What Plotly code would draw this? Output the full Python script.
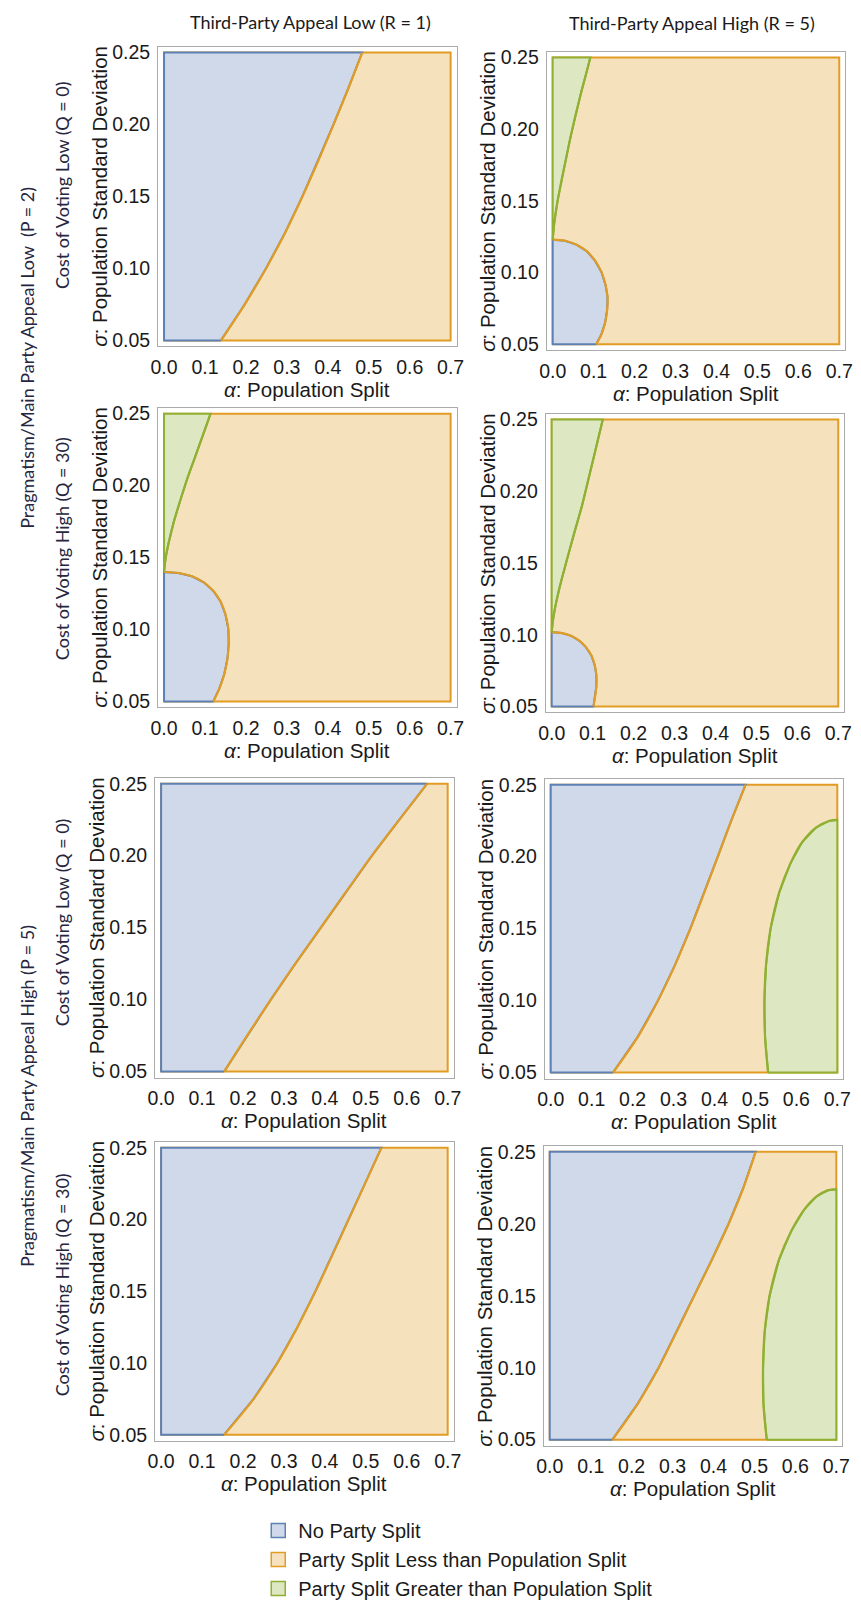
import plotly.graph_objects as go

# ---------------------------------------------------------------------------
# Axes and labels
# ---------------------------------------------------------------------------
ALPHA_RANGE = [0.0, 0.7]
SIGMA_RANGE = [0.05, 0.25]
ALPHA_TICKS = [0.0, 0.1, 0.2, 0.3, 0.4, 0.5, 0.6, 0.7]
ALPHA_TICK_LABELS = ["0.0", "0.1", "0.2", "0.3", "0.4", "0.5", "0.6", "0.7"]
SIGMA_TICKS = [0.05, 0.10, 0.15, 0.20, 0.25]
SIGMA_TICK_LABELS = ["0.05", "0.10", "0.15", "0.20", "0.25"]

COLUMN_TITLES = ["Third-Party Appeal Low (R = 1)", "Third-Party Appeal High (R = 5)"]
PRAGMATISM_LABELS = ["Pragmatism/Main Party Appeal Low  (P = 2)",
                     "Pragmatism/Main Party Appeal High (P = 5)"]
COST_LABELS = ["Cost of Voting Low (Q = 0)", "Cost of Voting High (Q = 30)",
               "Cost of Voting Low (Q = 0)", "Cost of Voting High (Q = 30)"]
X_TITLE = "<i>α</i>: Population Split"
Y_TITLE = "<i>σ</i>: Population Standard Deviation"
REGION_NAMES = ["No Party Split",
                "Party Split Less than Population Split",
                "Party Split Greater than Population Split"]

# ---------------------------------------------------------------------------
# Region boundaries (alpha, sigma) for each parameter combination
# ---------------------------------------------------------------------------
# P = 2, Q = 0, R = 1
P2_Q0_R1_NOSPLIT_ALPHA = [0.139, 0.197, 0.249, 0.296, 0.338, 0.377, 0.414, 0.450, 0.484]
P2_Q0_R1_NOSPLIT_SIGMA = [0.050, 0.075, 0.100, 0.125, 0.150, 0.175, 0.200, 0.225, 0.250]

# P = 2, Q = 0, R = 5
P2_Q0_R5_NOSPLIT_ALPHA = [0.000, 0.030, 0.058, 0.083, 0.103, 0.119, 0.129, 0.134,
                          0.133, 0.128, 0.119, 0.106]
P2_Q0_R5_NOSPLIT_SIGMA = [0.123, 0.1222, 0.1195, 0.1150, 0.1085, 0.1005, 0.0915, 0.083,
                          0.074, 0.065, 0.057, 0.050]
P2_Q0_R5_GREATER_ALPHA = [0.000, 0.004, 0.012, 0.022, 0.033, 0.044, 0.056, 0.069, 0.083, 0.092]
P2_Q0_R5_GREATER_SIGMA = [0.123, 0.135, 0.150, 0.165, 0.180, 0.195, 0.210, 0.225, 0.240, 0.250]

# P = 2, Q = 30, R = 1
P2_Q30_R1_NOSPLIT_ALPHA = [0.000, 0.035, 0.068, 0.097, 0.120, 0.138, 0.150, 0.157,
                           0.158, 0.155, 0.147, 0.135, 0.120]
P2_Q30_R1_NOSPLIT_SIGMA = [0.140, 0.1393, 0.1370, 0.1328, 0.1270, 0.1195, 0.1105, 0.1005,
                           0.0905, 0.080, 0.069, 0.059, 0.050]
P2_Q30_R1_GREATER_ALPHA = [0.000, 0.004, 0.011, 0.024, 0.040, 0.057, 0.076, 0.095, 0.1136]
P2_Q30_R1_GREATER_SIGMA = [0.140, 0.150, 0.160, 0.175, 0.190, 0.205, 0.220, 0.235, 0.250]

# P = 2, Q = 30, R = 5
P2_Q30_R5_NOSPLIT_ALPHA = [0.000, 0.025, 0.048, 0.068, 0.084, 0.097, 0.105, 0.109,
                           0.109, 0.106, 0.102]
P2_Q30_R5_NOSPLIT_SIGMA = [0.1019, 0.1012, 0.0992, 0.0958, 0.0912, 0.0855, 0.079, 0.072,
                           0.064, 0.057, 0.050]
P2_Q30_R5_GREATER_ALPHA = [0.000, 0.003, 0.009, 0.021, 0.035, 0.054, 0.074, 0.091, 0.108, 0.1248]
P2_Q30_R5_GREATER_SIGMA = [0.1019, 0.110, 0.120, 0.135, 0.150, 0.170, 0.190, 0.210, 0.230, 0.250]

# P = 5, Q = 0, R = 1
P5_Q0_R1_NOSPLIT_ALPHA = [0.154, 0.210, 0.268, 0.328, 0.390, 0.452, 0.515, 0.582, 0.650]
P5_Q0_R1_NOSPLIT_SIGMA = [0.050, 0.075, 0.100, 0.125, 0.150, 0.175, 0.200, 0.225, 0.250]

# P = 5, Q = 0, R = 5
P5_Q0_R5_NOSPLIT_ALPHA = [0.152, 0.213, 0.262, 0.304, 0.341, 0.375, 0.408, 0.441, 0.476]
P5_Q0_R5_NOSPLIT_SIGMA = [0.050, 0.075, 0.100, 0.125, 0.150, 0.175, 0.200, 0.225, 0.250]
P5_Q0_R5_GREATER_ALPHA = [0.531, 0.5235, 0.522, 0.526, 0.537, 0.558, 0.585, 0.614,
                          0.648, 0.680, 0.700]
P5_Q0_R5_GREATER_SIGMA = [0.050, 0.075, 0.100, 0.125, 0.150, 0.175, 0.195, 0.210,
                          0.2202, 0.2248, 0.2255]

# P = 5, Q = 30, R = 1
P5_Q30_R1_NOSPLIT_ALPHA = [0.154, 0.226, 0.284, 0.333, 0.377, 0.418, 0.458, 0.498, 0.538]
P5_Q30_R1_NOSPLIT_SIGMA = [0.050, 0.075, 0.100, 0.125, 0.150, 0.175, 0.200, 0.225, 0.250]

# P = 5, Q = 30, R = 5
P5_Q30_R5_NOSPLIT_ALPHA = [0.153, 0.215, 0.266, 0.310, 0.353, 0.396, 0.437, 0.473, 0.503]
P5_Q30_R5_NOSPLIT_SIGMA = [0.050, 0.075, 0.100, 0.125, 0.150, 0.175, 0.200, 0.225, 0.250]
P5_Q30_R5_GREATER_ALPHA = [0.530, 0.522, 0.521, 0.525, 0.537, 0.560, 0.590, 0.622,
                           0.652, 0.679, 0.700]
P5_Q30_R5_GREATER_SIGMA = [0.050, 0.075, 0.100, 0.125, 0.150, 0.175, 0.195, 0.210,
                           0.219, 0.2232, 0.2239]

# ---------------------------------------------------------------------------
# Styling
# ---------------------------------------------------------------------------
W, H = 861, 1608
BLUE_LINE, BLUE_FILL = "#5e81b5", "#cfd9e9"
ORANGE_LINE, ORANGE_FILL = "#e19c24", "#f6e1bd"
GREEN_LINE, GREEN_FILL = "#8fb032", "#dde7c2"
FRAME = "#ababab"
TEXT = "#1a1a1a"
LABEL_TEXT = "#262640"
SANS = "Liberation Sans, Arial, sans-serif"
CAPTION = "Lato, Carlito, sans-serif"
TICK_SIZE = 19.5
TITLE_SIZE = 20.5
CAPTION_SIZE = 18

# plot boxes in pixels: (left, right, top, bottom) of the alpha/sigma data area
PANEL_BOXES = {
    (1, 1): (159, 451, 48, 339), (1, 2): (555, 847, 53, 343),
    (2, 1): (159, 451, 413, 704), (2, 2): (554, 846, 419, 709),
    (3, 1): (156, 448, 787, 1078), (3, 2): (553, 845, 788, 1079),
    (4, 1): (156, 448, 1155, 1445), (4, 2): (552, 844, 1159, 1450),
}
FRAME_PAD = 6  # gap between the data area and the frame, px

# each panel: (row, col, no-split curve, no-split shape, greater curve, greater shape)
PANELS = [
    (1, 1, (P2_Q0_R1_NOSPLIT_ALPHA, P2_Q0_R1_NOSPLIT_SIGMA), "left", None, None),
    (1, 2, (P2_Q0_R5_NOSPLIT_ALPHA, P2_Q0_R5_NOSPLIT_SIGMA), "corner",
     (P2_Q0_R5_GREATER_ALPHA, P2_Q0_R5_GREATER_SIGMA), "top"),
    (2, 1, (P2_Q30_R1_NOSPLIT_ALPHA, P2_Q30_R1_NOSPLIT_SIGMA), "corner",
     (P2_Q30_R1_GREATER_ALPHA, P2_Q30_R1_GREATER_SIGMA), "top"),
    (2, 2, (P2_Q30_R5_NOSPLIT_ALPHA, P2_Q30_R5_NOSPLIT_SIGMA), "corner",
     (P2_Q30_R5_GREATER_ALPHA, P2_Q30_R5_GREATER_SIGMA), "top"),
    (3, 1, (P5_Q0_R1_NOSPLIT_ALPHA, P5_Q0_R1_NOSPLIT_SIGMA), "left", None, None),
    (3, 2, (P5_Q0_R5_NOSPLIT_ALPHA, P5_Q0_R5_NOSPLIT_SIGMA), "left",
     (P5_Q0_R5_GREATER_ALPHA, P5_Q0_R5_GREATER_SIGMA), "right"),
    (4, 1, (P5_Q30_R1_NOSPLIT_ALPHA, P5_Q30_R1_NOSPLIT_SIGMA), "left", None, None),
    (4, 2, (P5_Q30_R5_NOSPLIT_ALPHA, P5_Q30_R5_NOSPLIT_SIGMA), "left",
     (P5_Q30_R5_GREATER_ALPHA, P5_Q30_R5_GREATER_SIGMA), "right"),
]

a0, a1 = ALPHA_RANGE
s0, s1 = SIGMA_RANGE
CLOSING_CORNERS = {
    "left": [(a0, s1), (a0, s0)],
    "corner": [(a0, s0)],
    "top": [(a0, s1)],
    "right": [(a1, s0)],
}


def px_x(p):
    return p / W


def px_y(p):
    return 1 - p / H


def region_traces(curve, shape, fill, edge, boundary, xa, ya):
    """Filled region closed along the plot edges, plus its smooth boundary curve."""
    ax, sy = curve
    corners = CLOSING_CORNERS[shape]
    return [
        go.Scatter(
            x=list(ax) + [c[0] for c in corners] + [ax[0]],
            y=list(sy) + [c[1] for c in corners] + [sy[0]],
            xaxis=xa, yaxis=ya, mode="lines", fill="toself", fillcolor=fill,
            line=dict(color=edge, width=2), showlegend=False, hoverinfo="skip",
        ),
        go.Scatter(
            x=ax, y=sy, xaxis=xa, yaxis=ya, mode="lines",
            line=dict(color=boundary, width=2.2, shape="spline", smoothing=1),
            showlegend=False, hoverinfo="skip",
        ),
    ]


fig = go.Figure()
layout_axes = {}

for i, (row, col, nosplit, ns_shape, greater, gr_shape) in enumerate(PANELS, start=1):
    left, right, top, bottom = PANEL_BOXES[(row, col)]
    pad_a = FRAME_PAD * (a1 - a0) / (right - left)
    pad_s = FRAME_PAD * (s1 - s0) / (bottom - top)
    xa, ya = f"x{i}", f"y{i}"
    suffix = "" if i == 1 else str(i)

    layout_axes["xaxis" + suffix] = dict(
        domain=[px_x(left - FRAME_PAD), px_x(right + FRAME_PAD)],
        range=[a0 - pad_a, a1 + pad_a], anchor=ya,
        showline=True, mirror=True, linecolor=FRAME, linewidth=1.3,
        showgrid=False, zeroline=False, ticks="outside", ticklen=3,
        tickcolor="rgba(0,0,0,0)", tickvals=ALPHA_TICKS, ticktext=ALPHA_TICK_LABELS,
        tickfont=dict(family=SANS, size=TICK_SIZE, color=TEXT), fixedrange=True,
    )
    layout_axes["yaxis" + suffix] = dict(
        domain=[px_y(bottom + FRAME_PAD), px_y(top - FRAME_PAD)],
        range=[s0 - pad_s, s1 + pad_s], anchor=xa,
        showline=True, mirror=True, linecolor=FRAME, linewidth=1.3,
        showgrid=False, zeroline=False, ticks="outside", ticklen=3,
        tickcolor="rgba(0,0,0,0)", tickvals=SIGMA_TICKS, ticktext=SIGMA_TICK_LABELS,
        tickfont=dict(family=SANS, size=TICK_SIZE, color=TEXT), fixedrange=True,
    )

    # party split smaller than population split: the whole domain underneath
    fig.add_trace(go.Scatter(
        x=[a0, a1, a1, a0, a0], y=[s0, s0, s1, s1, s0], xaxis=xa, yaxis=ya,
        mode="lines", fill="toself", fillcolor=ORANGE_FILL,
        line=dict(color=ORANGE_LINE, width=2), showlegend=False, hoverinfo="skip",
    ))
    # no party split, bounded by the orange curve
    fig.add_traces(region_traces(nosplit, ns_shape, BLUE_FILL, BLUE_LINE, ORANGE_LINE, xa, ya))
    # party split greater than population split
    if greater is not None:
        fig.add_traces(region_traces(greater, gr_shape, GREEN_FILL, GREEN_LINE, GREEN_LINE, xa, ya))

# legend swatches
for name, fill, edge in zip(REGION_NAMES, [BLUE_FILL, ORANGE_FILL, GREEN_FILL],
                            [BLUE_LINE, ORANGE_LINE, GREEN_LINE]):
    fig.add_trace(go.Scatter(
        x=[None], y=[None], xaxis="x", yaxis="y", mode="markers", name=name,
        marker=dict(symbol="square", size=14, color=fill, line=dict(color=edge, width=1.5)),
    ))

annotations = []
# axis titles
for (row, col), (left, right, top, bottom) in PANEL_BOXES.items():
    annotations.append(dict(
        text=X_TITLE, x=px_x((left + right) / 2), y=px_y(bottom + 49.5),
        xref="paper", yref="paper", xanchor="center", yanchor="middle",
        showarrow=False, font=dict(family=SANS, size=TITLE_SIZE, color=TEXT),
    ))
    annotations.append(dict(
        text=Y_TITLE, x=px_x(left - 66), y=px_y((top + bottom) / 2),
        xref="paper", yref="paper", xanchor="center", yanchor="middle",
        textangle=-90, showarrow=False, font=dict(family=SANS, size=TITLE_SIZE, color=TEXT),
    ))

# column headings
for title, cx, cy in zip(COLUMN_TITLES, [308, 697], [17, 18]):
    annotations.append(dict(
        text=title, x=px_x(cx), y=px_y(cy), xref="paper", yref="paper",
        xanchor="center", yanchor="middle", showarrow=False,
        font=dict(family=CAPTION, size=CAPTION_SIZE, color=TEXT),
    ))

# row headings
for label, cy in zip(PRAGMATISM_LABELS, [357, 1103]):
    annotations.append(dict(
        text=label, x=px_x(20), y=px_y(cy), xref="paper", yref="paper",
        xanchor="center", yanchor="middle", textangle=-90, showarrow=False,
        font=dict(family=CAPTION, size=CAPTION_SIZE, color=LABEL_TEXT),
    ))
for label, cy in zip(COST_LABELS, [182, 549, 927, 1293]):
    annotations.append(dict(
        text=label, x=px_x(55), y=px_y(cy), xref="paper", yref="paper",
        xanchor="center", yanchor="middle", textangle=-90, showarrow=False,
        font=dict(family=CAPTION, size=CAPTION_SIZE, color=LABEL_TEXT),
    ))

fig.update_layout(
    width=W, height=H, margin=dict(l=0, r=0, t=0, b=0),
    paper_bgcolor="white", plot_bgcolor="white",
    annotations=annotations,
    legend=dict(
        x=px_x(255), y=px_y(1522), xanchor="left", yanchor="top",
        font=dict(family=SANS, size=20, color=TEXT),
        bgcolor="rgba(0,0,0,0)", tracegroupgap=0, itemclick=False, itemdoubleclick=False,
    ),
    **layout_axes,
)

fig.write_html("out.html")
